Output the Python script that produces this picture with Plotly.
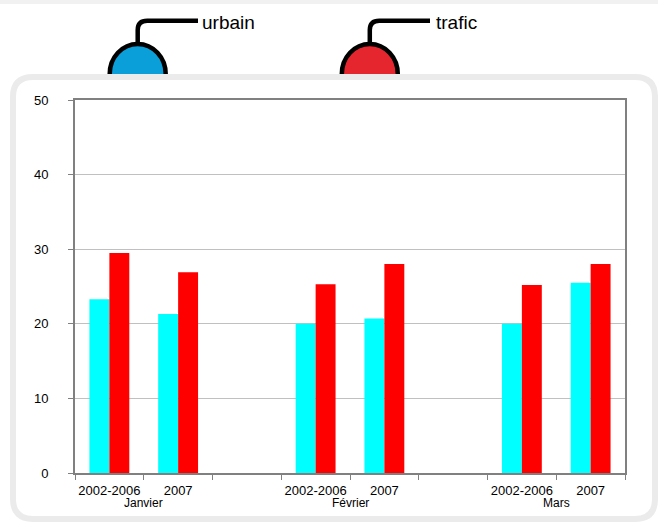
import plotly.graph_objects as go

# --- data -------------------------------------------------------------
months = ["Janvier", "Février", "Mars"]
periods = ["2002-2006", "2007"]
urbain = [23.3, 21.3, 20.0, 20.7, 20.0, 25.5]   # per month: 2002-2006, 2007
trafic = [29.5, 26.9, 25.3, 28.0, 25.2, 28.0]
y_ticks = [0, 10, 20, 30, 40, 50]

# each month takes two bar slots followed by one empty slot
slot_x = [m * 3 + p for m in range(len(months)) for p in range(len(periods))]
slot_text = [periods[p] for m in range(len(months)) for p in range(len(periods))]
month_x = [m * 3 + 0.5 for m in range(len(months))]
n_slots = len(months) * 3 - 1

W, H = 658, 522
L, R, T, B = 75, 33, 100, 49
PW, PH = W - L - R, H - T - B


def px(x, y):
    """Pixel position -> paper coordinates."""
    return (x - L) / PW, (H - B - y) / PH


def path(cmds):
    out = []
    for c in cmds:
        if isinstance(c, str):
            out.append(c)
        else:
            xx, yy = px(*c)
            out.append(f"{xx:.5f},{yy:.5f}")
    return " ".join(out)


fig = go.Figure()
fig.add_trace(go.Bar(x=slot_x, y=urbain, name="urbain",
                     marker=dict(color="#00FFFF", line=dict(width=0))))
fig.add_trace(go.Bar(x=slot_x, y=trafic, name="trafic",
                     marker=dict(color="#FF0000", line=dict(width=0))))

shapes = []

# faint strip along the top edge
shapes.append(dict(type="rect", xref="paper", yref="paper", layer="below",
                   x0=px(0, 0)[0], x1=px(W, 0)[0], y0=px(0, 0)[1], y1=px(0, 4)[1],
                   fillcolor="#f1f1f1", line=dict(width=0)))


def dome(cx, fill):
    rx, ry, base, k = 28, 30, 74, 0.5523
    top = base - ry
    return dict(type="path", xref="paper", yref="paper",
                path=path(["M", (cx - rx, base + 3), "L", (cx - rx, base),
                           "C", (cx - rx, base - k * ry), (cx - k * rx, top), (cx, top),
                           "C", (cx + k * rx, top), (cx + rx, base - k * ry), (cx + rx, base),
                           "L", (cx + rx, base + 3), "Z"]),
                fillcolor=fill, line=dict(color="black", width=4.5))


def stem(cx, x_end):
    return dict(type="path", xref="paper", yref="paper",
                path=path(["M", (cx, 45), "L", (cx, 30),
                           "Q", (cx, 20.7), (cx + 9.5, 20.7), "L", (x_end, 20.7)]),
                line=dict(color="black", width=4.5))


shapes += [stem(137.7, 198), dome(137.7, "#0A9FD8"),
           stem(369.8, 430), dome(369.8, "#E5262F")]

# rounded frame around the chart
r = 20
x0, y0, x1, y1 = 13, 77, 655, 519
shapes.append(dict(type="path", xref="paper", yref="paper",
                   path=path(["M", (x0 + r, y0), "L", (x1 - r, y0), "Q", (x1, y0), (x1, y0 + r),
                              "L", (x1, y1 - r), "Q", (x1, y1), (x1 - r, y1),
                              "L", (x0 + r, y1), "Q", (x0, y1), (x0, y1 - r),
                              "L", (x0, y0 + r), "Q", (x0, y0), (x0 + r, y0), "Z"]),
                   line=dict(color="#EBEBEB", width=6)))

annotations = [
    dict(text="urbain", x=px(200, 0)[0], y=px(0, 22)[1], xref="paper", yref="paper",
         xanchor="left", yanchor="middle", showarrow=False,
         font=dict(family="Liberation Sans, Arial", size=19, color="black")),
    dict(text="trafic", x=px(434, 0)[0], y=px(0, 22)[1], xref="paper", yref="paper",
         xanchor="left", yanchor="middle", showarrow=False,
         font=dict(family="Liberation Sans, Arial", size=19, color="black")),
]
for mx, name in zip(month_x, months):
    annotations.append(dict(text=name, x=mx, y=px(0, 503)[1], xref="x", yref="paper",
                            xanchor="center", yanchor="middle", showarrow=False,
                            font=dict(family="Liberation Sans, Arial", size=12, color="black")))

fig.update_layout(
    width=W, height=H,
    margin=dict(l=L, r=R, t=T, b=B),
    paper_bgcolor="white", plot_bgcolor="white",
    barmode="group", bargap=0.42, bargroupgap=0,
    showlegend=False,
    shapes=shapes, annotations=annotations,
    font=dict(family="Liberation Sans, Arial", size=12, color="black"),
    xaxis=dict(range=[-0.5, n_slots - 0.5], tickmode="array", tickvals=slot_x, ticktext=slot_text,
               ticks="", showgrid=False, zeroline=False,
               showline=True, linecolor="#808080", linewidth=2, mirror=True,
               tickfont=dict(size=13), ticklabelstandoff=4,
               minor=dict(tickmode="array", tickvals=[i - 0.5 for i in range(n_slots + 1)],
                          ticks="outside", ticklen=5, tickcolor="#808080", tickwidth=1,
                          showgrid=False)),
    yaxis=dict(range=[0, 50], tickmode="array", tickvals=y_ticks,
               showgrid=True, gridcolor="#C0C0C0", gridwidth=1, zeroline=False,
               showline=True, linecolor="#808080", linewidth=2, mirror=True,
               ticks="outside", ticklen=5, tickcolor="#808080",
               tickfont=dict(size=13), ticklabelstandoff=17),
)

fig.write_html("out.html")
